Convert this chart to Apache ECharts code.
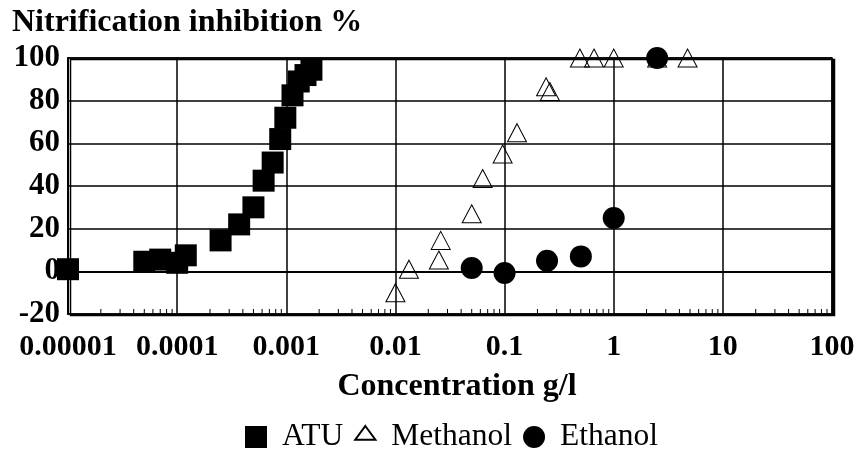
<!DOCTYPE html>
<html>
<head>
<meta charset="utf-8">
<script src="https://cdn.jsdelivr.net/npm/echarts@6/dist/echarts.min.js"></script>
<style>
  html, body { margin: 0; padding: 0; background: #fff; }
  #chart { width: 866px; height: 452px; }
</style>
</head>
<body>
<div id="chart"></div>
<script>
// Concentration (g/l) and nitrification inhibition (%) for each compound
const atuConc = [0.00001, 0.00005, 0.00007, 0.0001, 0.00012, 0.00025, 0.00037, 0.0005, 0.00062, 0.00075, 0.00088, 0.00098, 0.00114, 0.0013, 0.0015, 0.0017];
const atuInhib = [1, 4.5, 5.5, 4, 7.5, 14.5, 22, 30, 42.5, 51, 62, 72, 82.5, 89, 92, 94.5];

const methanolConc = [0.01, 0.0133, 0.025, 0.026, 0.05, 0.063, 0.096, 0.13, 0.24, 0.26, 0.49, 0.66, 1, 2.5, 4.75];
const methanolInhib = [-10, 1, 5.3, 14.5, 27, 43.5, 55, 65, 86.5, 84.3, 100, 100, 100, 100, 100];

const ethanolConc = [0.05, 0.1, 0.245, 0.5, 1, 2.5];
const ethanolInhib = [1.6, -0.8, 5, 7, 25, 100];

const xTickLabels = ['0.00001', '0.0001', '0.001', '0.01', '0.1', '1', '10', '100'];
const yTickLabels = ['-20', '0', '20', '40', '60', '80', '100'];

const seriesNames = ['ATU', 'Methanol', 'Ethanol'];

const zip = (xs, ys) => xs.map((x, i) => [x, ys[i]]);

// log-axis minor tick positions (2..9 within each decade)
const minorTickValues = [];
for (let e = -5; e < 2; e++) {
  for (let k = 2; k <= 9; k++) minorTickValues.push([k * Math.pow(10, e)]);
}

const FONT = '"Liberation Serif", "Times New Roman", serif';

const chart = echarts.init(document.getElementById('chart'), null, { renderer: 'canvas' });

chart.setOption({
  animation: false,
  backgroundColor: '#fff',
  title: [
    {
      text: 'Nitrification inhibition %',
      left: 12,
      top: 7,
      padding: 0,
      textStyle: { fontFamily: FONT, fontWeight: 'bold', fontSize: 32, color: '#000' }
    },
    {
      text: 'Concentration g/l',
      left: 457,
      top: 371,
      padding: 0,
      textAlign: 'center',
      textStyle: { fontFamily: FONT, fontWeight: 'bold', fontSize: 32, color: '#000' }
    }
  ],
  legend: {
    data: [
      { name: 'ATU', icon: 'rect' },
      { name: 'Methanol', icon: 'path://M11,0L22,15L0,15Z M0,24' },
      { name: 'Ethanol', icon: 'circle' }
    ],
    left: 245,
    top: 421,
    padding: 0,
    itemWidth: 22,
    itemHeight: 22,
    itemGap: 11,
    textStyle: { fontFamily: FONT, fontSize: 31.5, color: '#000', padding: [0, 0, 0, 10] }
  },
  grid: {
    left: 68,
    right: 34,
    top: 58,
    bottom: 138,
    show: true,
    backgroundColor: '#fff',
    borderColor: '#000',
    borderWidth: 1.5,
    shadowColor: '#000',
    shadowBlur: 0,
    shadowOffsetX: 2.5,
    shadowOffsetY: 1.5
  },
  xAxis: {
    type: 'log',
    logBase: 10,
    min: 0.00001,
    max: 100,
    axisLine: { show: true, lineStyle: { color: '#000', width: 2 } },
    axisTick: { show: false },
    splitLine: { show: true, lineStyle: { color: '#000', width: 1.5 } },
    axisLabel: {
      margin: 18,
      fontFamily: FONT,
      fontWeight: 'bold',
      fontSize: 30,
      color: '#000',
      formatter: (v, i) => xTickLabels[i]
    }
  },
  yAxis: {
    type: 'value',
    min: -20,
    max: 100,
    interval: 20,
    axisLine: { show: true, lineStyle: { color: '#000', width: 2 } },
    axisTick: { show: false },
    splitLine: { show: true, lineStyle: { color: '#000', width: 1.5 } },
    axisLabel: {
      margin: 8,
      fontFamily: FONT,
      fontWeight: 'bold',
      fontSize: 31,
      color: '#000',
      formatter: (v, i) => yTickLabels[i]
    }
  },
  series: [
    {
      name: 'minor-ticks',
      type: 'custom',
      silent: true,
      z: 1,
      data: minorTickValues,
      renderItem: (params, api) => {
        const p = api.coord([api.value(0), -20]);
        return {
          type: 'line',
          shape: { x1: p[0], y1: p[1], x2: p[0], y2: p[1] - 5 },
          style: { stroke: '#000', lineWidth: 1 }
        };
      }
    },
    {
      name: seriesNames[0],
      type: 'scatter',
      clip: false,
      symbol: 'rect',
      symbolSize: 22,
      itemStyle: { color: '#000', opacity: 1 },
      data: zip(atuConc, atuInhib)
    },
    {
      name: seriesNames[1],
      type: 'scatter',
      clip: false,
      symbol: 'triangle',
      symbolSize: [19, 18],
      itemStyle: { color: 'rgba(0,0,0,0)', borderColor: '#000', borderWidth: 1, opacity: 1 },
      data: zip(methanolConc, methanolInhib)
    },
    {
      name: seriesNames[2],
      type: 'scatter',
      clip: false,
      symbol: 'circle',
      symbolSize: 22,
      itemStyle: { color: '#000', opacity: 1 },
      data: zip(ethanolConc, ethanolInhib)
    }
  ]
});
</script>
</body>
</html>
